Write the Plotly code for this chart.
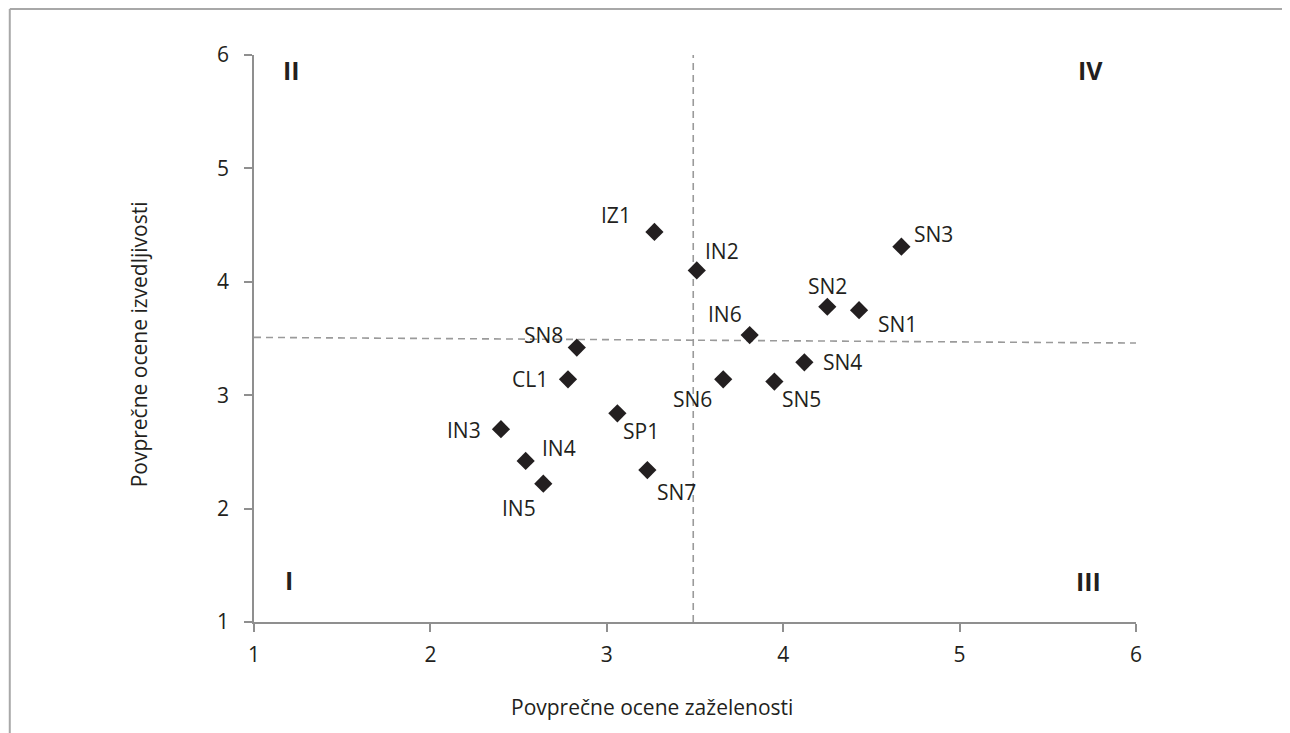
import plotly.graph_objects as go

# ---- data ----
labels = ["IZ1", "IN2", "SN3", "SN2", "SN1", "IN6", "SN8", "SN4",
          "CL1", "SP1", "IN3", "IN4", "IN5", "SN7", "SN6", "SN5"]
x_vals = [3.27, 3.51, 4.67, 4.25, 4.43, 3.81, 2.83, 4.12,
          2.78, 3.06, 2.40, 2.54, 2.64, 3.23, 3.66, 3.95]
y_vals = [4.44, 4.10, 4.31, 3.78, 3.75, 3.53, 3.42, 3.29,
          3.14, 2.84, 2.70, 2.42, 2.22, 2.34, 3.14, 3.12]

vline_x = [3.49, 3.49]
vline_y = [1, 6]
hline_x = [1, 6]
hline_y = [3.51, 3.46]

quadrants = ["I", "II", "III", "IV"]
quad_x = [1.20, 1.21, 5.73, 5.74]
quad_y = [1.37, 5.87, 1.36, 5.87]

tick_vals = [1, 2, 3, 4, 5, 6]
x_title = "Povprečne ocene zaželenosti"
y_title = "Povprečne ocene izvedljivosti"

# ---- label offsets (px) ----
offsets = {
    "IZ1": (-38, 17), "IN2": (25, 19), "SN3": (32, 13), "SN2": (0, 21),
    "SN1": (38, -14), "IN6": (-25, 21), "SN8": (-33, 13), "SN4": (38, 0),
    "CL1": (-38, 0), "SP1": (24, -18), "IN3": (-37, -1), "IN4": (33, 13),
    "IN5": (-24, -24), "SN7": (29, -22), "SN6": (-31, -20), "SN5": (27, -17),
}

FONT = "Open Sans"
TXT = "#231f20"
AXIS = "#8f8f8f"
DASH = "#9a9a9a"

fig = go.Figure()
fig.add_trace(go.Scatter(x=vline_x, y=vline_y, mode="lines",
                         line=dict(color=DASH, width=1.6, dash="7px,5px"),
                         hoverinfo="skip", showlegend=False))
fig.add_trace(go.Scatter(x=hline_x, y=hline_y, mode="lines",
                         line=dict(color=DASH, width=1.6, dash="7px,5px"),
                         hoverinfo="skip", showlegend=False))
fig.add_trace(go.Scatter(x=x_vals, y=y_vals, mode="markers", text=labels,
                         marker=dict(symbol="diamond", size=14, color=TXT,
                                     line=dict(width=0)),
                         showlegend=False))

for lab, xv, yv in zip(labels, x_vals, y_vals):
    dx, dy = offsets[lab]
    fig.add_annotation(x=xv, y=yv, text=lab, showarrow=False,
                       xshift=dx, yshift=dy,
                       font=dict(family=FONT, size=21, color=TXT))

for q, xv, yv in zip(quadrants, quad_x, quad_y):
    fig.add_annotation(x=xv, y=yv, text=q, showarrow=False,
                       font=dict(family=FONT, size=25, color=TXT, weight="bold"))

# axis titles
fig.add_annotation(x=0.4513, y=-0.1507, xref="paper", yref="paper",
                   xanchor="center", yanchor="middle",
                   text=x_title, showarrow=False,
                   font=dict(family=FONT, size=21, color=TXT))
fig.add_annotation(x=-0.1308, y=0.489, xref="paper", yref="paper",
                   xanchor="center", yanchor="middle",
                   text=y_title, showarrow=False, textangle=-90,
                   font=dict(family=FONT, size=21, color=TXT))

# outer frame (top and left borders)
fig.add_shape(type="line", xref="paper", yref="paper",
              x0=-0.2769, x1=1.2, y0=1.081, y1=1.081,
              line=dict(color="#a8a8a8", width=2))
fig.add_shape(type="line", xref="paper", yref="paper",
              x0=-0.2769, x1=-0.2769, y0=1.081, y1=-0.25,
              line=dict(color="#a8a8a8", width=2))

axis_common = dict(range=[1, 6], tickvals=tick_vals, showgrid=False,
                   zeroline=False, showline=True, linecolor=AXIS,
                   linewidth=1.6, ticks="outside", ticklen=8,
                   tickcolor=AXIS, tickwidth=1.6,
                   tickfont=dict(family=FONT, size=21, color=TXT))

fig.update_layout(
    width=1282, height=725,
    margin=dict(l=245.5, r=153.5, t=47, b=110.5),
    paper_bgcolor="white", plot_bgcolor="white",
    xaxis=dict(**axis_common, ticklabelstandoff=5),
    yaxis=dict(**axis_common, ticklabelstandoff=11),
    showlegend=False,
)

fig.write_html("out.html")
